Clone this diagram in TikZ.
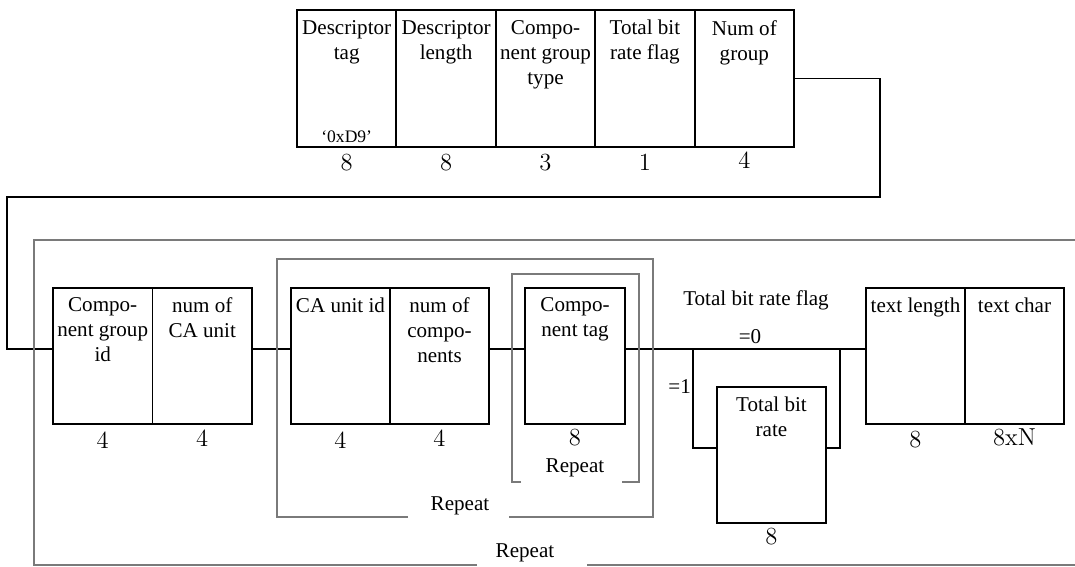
\documentclass[tikz,border=0pt]{standalone}
\usepackage{fontspec}
\newfontfamily\timesfont{Liberation Serif}
\usetikzlibrary{positioning}
\definecolor{loopline}{HTML}{7A7A7A}

\begin{document}
\begin{tikzpicture}[x=0.02cm, y=-0.02cm,
    every node/.style={font=\timesfont\fontsize{12}{14.2}\selectfont},
    field/.style={draw, line width=1pt, minimum width=1.99cm, minimum height=2.73cm, inner sep=0pt},
    fieldname/.style={align=center, inner sep=1.5pt},
    bits/.style={font=\rmfamily\fontsize{14}{16}\selectfont, inner sep=1pt},
    link/.style={line width=0.6pt},
    loopframe/.style={draw=loopline, line width=0.7pt}]
  \useasboundingbox (0,0) rectangle (1075,566);

  % descriptor header
  \node[field] (dtag) at (346.7,78.5) {};
  \node[field] (dlen) at (446.1,78.5) {};
  \node[field] (cgtype) at (545.5,78.5) {};
  \node[field] (tbrflag) at (644.9,78.5) {};
  \node[field] (ngroup) at (744.3,78.5) {};
  \node[fieldname, below=4.5pt of dtag.north] {Descriptor\\tag};
  \node[fieldname, below=4.5pt of dlen.north] {Descriptor\\length};
  \node[fieldname, below=4.5pt of cgtype.north] {Compo-\\nent group\\type};
  \node[fieldname, below=4.5pt of tbrflag.north] {Total bit\\rate flag};
  \node[fieldname, below=4.5pt of ngroup.north] {Num of\\group};
  \node[font=\timesfont\fontsize{10}{12}\selectfont] (tagval) at (346.7,137) {‘0xD9’};
  \node[bits, below=2.5pt of dtag.south] {8};
  \node[bits, below=2.5pt of dlen.south] {8};
  \node[bits, below=2.5pt of cgtype.south] {3};
  \node[bits, below=2.5pt of tbrflag.south] {1};
  \node[bits, below=1.5pt of ngroup.south] {4};

  % group loop
  \node[field] (cgid) at (102.7,356) {};
  \node[field] (ncau) at (202.2,356) {};
  \node[field] (caid) at (340.5,356) {};
  \node[field] (ncomp) at (439.5,356) {};
  \node[field] (ctag) at (575,356) {};
  \node[field, minimum width=2.18cm] (tbr) at (771.5,455) {};
  \node[field] (tlen) at (915.5,356) {};
  \node[field] (tchar) at (1014.5,356) {};
  \node[fieldname, below=4.5pt of cgid.north] {Compo-\\nent group\\id};
  \node[fieldname, below=4.5pt of ncau.north] {num of\\CA unit};
  \node[fieldname, below=4.5pt of caid.north] {CA unit id};
  \node[fieldname, below=4.5pt of ncomp.north] {num of\\compo-\\nents};
  \node[fieldname, below=4.5pt of ctag.north] {Compo-\\nent tag};
  \node[fieldname, below=4.5pt of tbr.north] {Total bit\\rate};
  \node[fieldname, below=4.5pt of tlen.north] {text length};
  \node[fieldname, below=4.5pt of tchar.north] {text char};
  \node[bits, below=2.5pt of cgid.south] {4};
  \node[bits, below=1.5pt of ncau.south] {4};
  \node[bits, below=2.5pt of caid.south] {4};
  \node[bits, below=1.5pt of ncomp.south] {4};
  \node[bits, below=1pt of ctag.south] {8};
  \node[bits, below=1pt of tbr.south] {8};
  \node[bits, below=2.5pt of tlen.south] {8};
  \node[bits, below=1pt of tchar.south] {8xN};

  % connectors
  \coordinate (wrapR) at (880,197);
  \coordinate (wrapL) at (7,197);
  \coordinate (bus) at (0,349);
  \coordinate (tap) at (0,448);
  \coordinate (skipL) at (693,349);
  \coordinate (skipR) at (840,349);
  \draw[link] (ngroup.east) -| (wrapR) -- (wrapL) |- (cgid.west |- bus);
  \draw[link] (ncau.east |- bus) -- (caid.west |- bus);
  \draw[link] (ncomp.east |- bus) -- (ctag.west |- bus);
  \draw[link] (ctag.east |- bus) -- (tlen.west |- bus);
  \draw[link] (skipL) |- (tbr.west |- tap);
  \draw[link] (tbr.east |- tap) -| (skipR);
  \node (flag) at (756,300) {Total bit rate flag};
  \node (eq0) at (750,337) {=0};
  \node[anchor=east, inner sep=1pt] (eq1) at (693,387) {=1};

  % repeat frames
  \draw[loopframe] (477,565) -- (34,565) -- (34,240) -- (1075,240);
  \draw[loopframe] (587,565) -- (1075,565);
  \node (outerrep) at (525,553) {Repeat};
  \draw[loopframe] (408,517) -- (277,517) -- (277,259) -- (653,259) -- (653,517) -- (509,517);
  \node (unitrep) at (460,506) {Repeat};
  \draw[loopframe] (521,482) -- (512,482) -- (512,274) -- (639,274) -- (639,482) -- (622,482);
  \node (comprep) at (575,468) {Repeat};
\end{tikzpicture}
\end{document}
